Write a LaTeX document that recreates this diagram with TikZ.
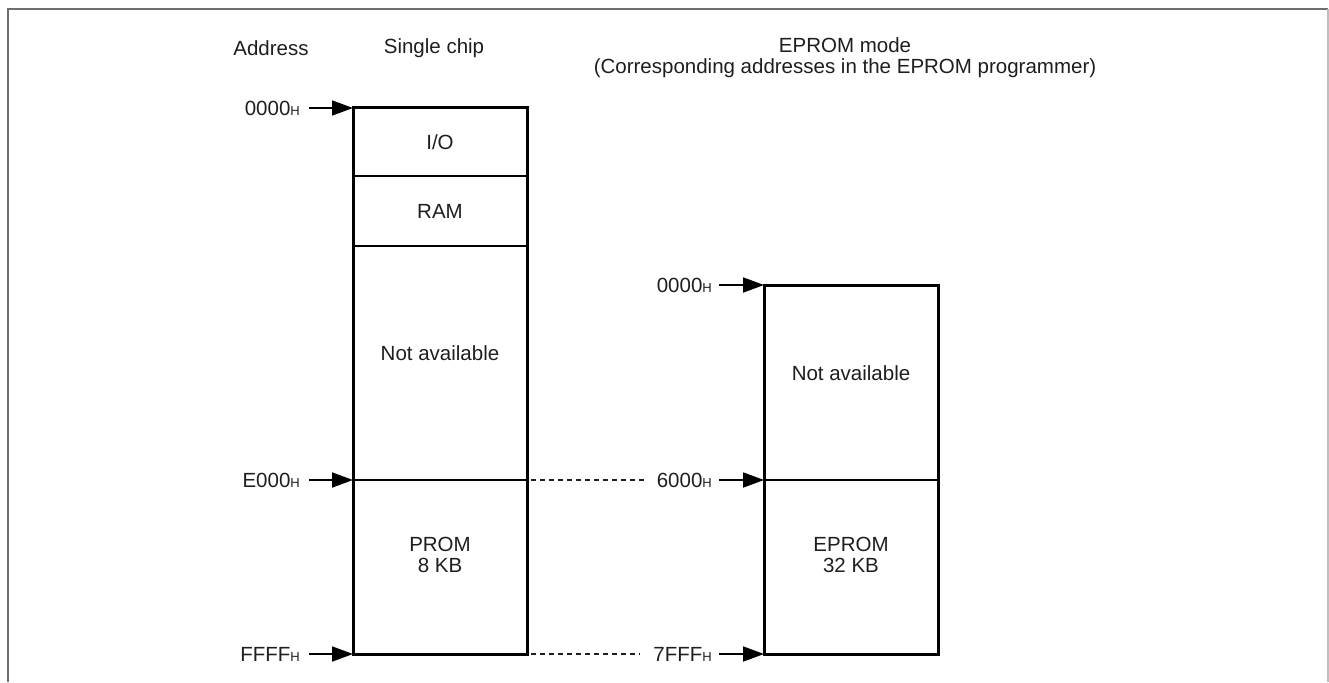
\documentclass[tikz,border=0pt]{standalone}
\usepackage{fontspec}
\setmainfont{Liberation Sans}
\usetikzlibrary{arrows.meta, positioning}
\definecolor{framegray}{RGB}{110,110,110}
\definecolor{framelight}{RGB}{190,190,190}
\definecolor{mydark}{RGB}{30,30,30}
\newcommand{\mapfont}{\fontsize{20.5}{21}\selectfont}
\newcommand{\hsub}{{\fontsize{13}{13}\selectfont H}}
\tikzset{
  cell/.style={rectangle, draw=black, line width=1.2pt, minimum width=174pt,
    inner sep=0pt, outer sep=0pt},
  celltext/.style={font=\mapfont, align=center, text=mydark, inner sep=0pt},
  outline/.style={draw=black, line width=3pt, line join=miter},
  addr/.style={font=\mapfont, text=mydark, inner sep=0pt},
  addrarrow/.style={-{Triangle[length=21pt, width=15pt]}, line width=1.8pt, color=black},
  linkline/.style={dash pattern=on 5pt off 4pt, line width=1.1pt, color=mydark}
}
\begin{document}
\begin{tikzpicture}[x=1pt, y=-1pt]
  \useasboundingbox (0,0) rectangle (1329,682);
  % frame
  \draw[framegray, line width=1.5pt] (8,682) -- (8,9) -- (1328,9);
  \draw[framelight, line width=1.5pt] (1328,9) -- (1328,682);

  % headings
  \node[celltext] (hdraddr) at (271,48) {Address};
  \node[celltext] (hdrchip) at (434,48) {Single chip};
  \node[celltext] (hdreprom) at (845,58) {EPROM mode\\(Corresponding addresses in the EPROM programmer)};

  % single chip map
  \node[cell, minimum height=68pt] (io) at (440,142) {};
  \node[cell, minimum height=70pt, below=0pt of io] (ram) {};
  \node[cell, minimum height=234pt, below=0pt of ram] (free) {};
  \node[cell, minimum height=174pt, below=0pt of free] (prom) {};
  \draw[outline] (io.north west) rectangle (prom.south east);
  \node[celltext] (iotxt) at (io.center) {I/O};
  \node[celltext] (ramtxt) at (ram.center) {RAM};
  \node[celltext] (freetxt) at ([yshift=10pt]free.center) {Not available};
  \node[celltext] (promtxt) at ([yshift=12pt]prom.center) {PROM\\8 KB};

  % EPROM mode map
  \node[cell, minimum height=195pt] (rfree) at (851,382.5) {};
  \node[cell, minimum height=174pt, below=0pt of rfree] (rprom) {};
  \draw[outline] (rfree.north west) rectangle (rprom.south east);
  \node[celltext] (rfreetxt) at ([yshift=9pt]rfree.center) {Not available};
  \node[celltext] (rpromtxt) at ([yshift=12pt]rprom.center) {EPROM\\32 KB};

  % addresses, single chip
  \node[addr, anchor=east] (a0000) at (300,108) {0000\hsub};
  \node[addr, anchor=east] (ae000) at (300,480) {E000\hsub};
  \node[addr, anchor=east] (affff) at (300,654) {FFFF\hsub};
  \draw[addrarrow, shorten <=9pt] (a0000.east) -- (io.north west);
  \draw[addrarrow, shorten <=9pt] (ae000.east) -- (prom.north west);
  \draw[addrarrow, shorten <=9pt] (affff.east) -- (prom.south west);

  % addresses, EPROM mode
  \node[addr, anchor=east] (r0000) at (712,285) {0000\hsub};
  \node[addr, anchor=east] (r6000) at (712,480) {6000\hsub};
  \node[addr, anchor=east] (r7fff) at (712,654) {7FFF\hsub};
  \draw[addrarrow, shorten <=7pt] (r0000.east) -- (rfree.north west);
  \draw[addrarrow, shorten <=7pt] (r6000.east) -- (rprom.north west);
  \draw[addrarrow, shorten <=7pt] (r7fff.east) -- (rprom.south west);

  % correspondence
  \draw[linkline, shorten <=4pt, shorten >=13pt] (prom.north east) -- (r6000.west);
  \draw[linkline, shorten <=4pt, shorten >=13pt] (prom.south east) -- (r7fff.west);
\end{tikzpicture}
\end{document}
